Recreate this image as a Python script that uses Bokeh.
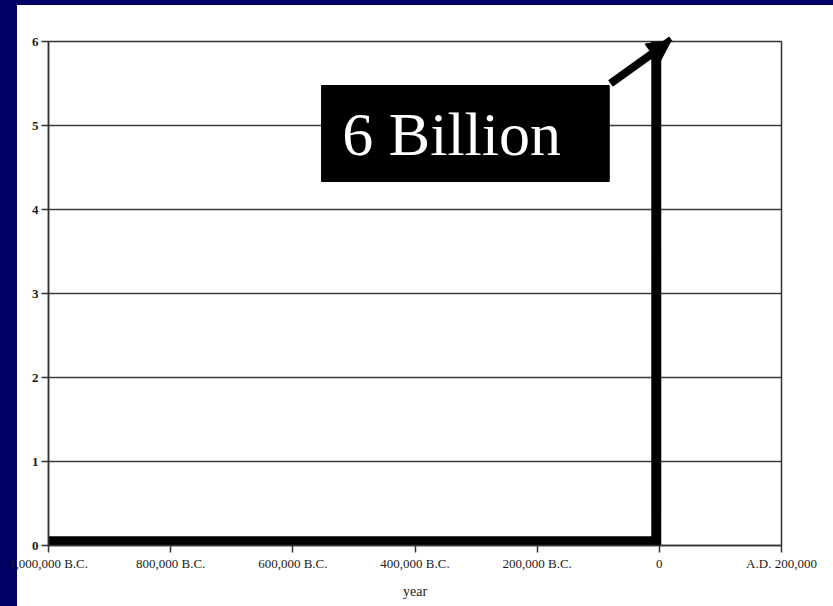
from bokeh.plotting import figure
from bokeh.models import Range1d, FixedTicker, Arrow, NormalHead, GlobalInlineStyleSheet
from bokeh.core.properties import value
from bokeh.embed import file_html
from bokeh.resources import INLINE

# data (years, world population in billions)
years = [-1000000, -600000, -200000, -5000, -5000]
population = [0.05, 0.05, 0.05, 0.05, 6.0]

x_ticks = [-1000000, -800000, -600000, -400000, -200000, 0, 200000]
x_tick_labels = ["1,000,000 B.C.", "800,000 B.C.", "600,000 B.C.", "400,000 B.C.",
                 "200,000 B.C.", "0", "A.D. 200,000"]
y_ticks = [0, 1, 2, 3, 4, 5, 6]
callout_text = "6 Billion"

NAVY = "#000066"

p = figure(width=833, height=606, output_backend="svg", toolbar_location=None,
           x_range=Range1d(-1000000, 200000), y_range=Range1d(0, 6),
           min_border_left=48, min_border_right=52, min_border_top=41, min_border_bottom=61)

p.stylesheets = [GlobalInlineStyleSheet(css=(
    "body{background:linear-gradient(to bottom," + NAVY + " 5px,transparent 5px),"
    "linear-gradient(to right," + NAVY + " 17px,#ffffff 17px);}"
))]

p.border_fill_color = None
p.background_fill_color = "white"
p.outline_line_color = "#333333"
p.outline_line_width = 1.5

# grid
p.xgrid.grid_line_color = None
p.ygrid.grid_line_color = "#3a3a3a"
p.ygrid.grid_line_width = 1.5
p.ygrid.ticker = FixedTicker(ticks=y_ticks)

# axes
p.xaxis.ticker = FixedTicker(ticks=x_ticks)
p.xaxis.major_label_overrides = {t: l for t, l in zip(x_ticks, x_tick_labels)}
p.yaxis.ticker = FixedTicker(ticks=y_ticks)
for ax in (p.xaxis, p.yaxis):
    ax.axis_line_color = "#333333"
    ax.axis_line_width = 1.5
    ax.major_tick_line_color = "#333333"
    ax.major_tick_line_width = 1.5
    ax.major_tick_in = 0
    ax.major_tick_out = 7
    ax.minor_tick_line_color = None
    ax.major_label_text_font = "Liberation Serif"
    ax.major_label_text_color = "#1a1a1a"
p.xaxis.major_label_text_font_size = "13px"
p.yaxis.major_label_text_font_size = "13px"
p.yaxis.major_label_text_font_style = "bold"
p.xaxis.major_label_standoff = 3
p.yaxis.major_label_standoff = 3
p.xaxis.axis_label = "year"
p.xaxis.axis_label_text_font = "Liberation Serif"
p.xaxis.axis_label_text_font_size = "14px"
p.xaxis.axis_label_text_font_style = "normal"
p.xaxis.axis_label_text_color = "#1a1a1a"
p.xaxis.axis_label_standoff = 10

# population line
p.line(years, population, line_width=10, line_color="black", line_join="miter", line_cap="butt")

# callout box and text
p.quad(left=[-553000], right=[-82000], bottom=[4.333], top=[5.476],
       fill_color="black", line_color="black")
p.text(x=[-519000], y=[4.893], text=[callout_text], text_color="white",
       text_font=value("Liberation Serif"), text_font_size="62px",
       text_align="left", text_baseline="middle")

# arrow
p.add_layout(Arrow(end=NormalHead(size=24, fill_color="black", line_color="black"),
                   x_start=-80000, y_start=5.5, x_end=20000, y_end=6.02,
                   line_width=8, line_color="black"))

open("out.html", "w").write(file_html(p, INLINE))
